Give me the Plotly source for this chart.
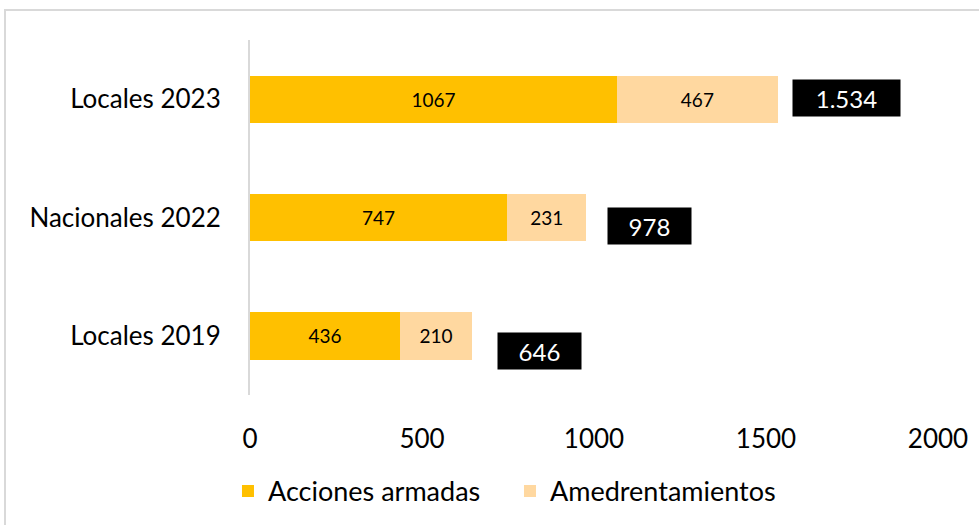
import plotly.graph_objects as go

# ── Datos ─────────────────────────────────────────────────────────────────────
CATEGORIAS      = ["Locales 2019", "Nacionales 2022", "Locales 2023"]
ACCIONES        = [436, 747, 1067]
AMEDRENTAMIENTO = [210, 231, 467]
TOTALES_TXT     = ["646", "978", "1.534"]
X_TICKS         = [0, 500, 1000, 1500, 2000]

# ── Estilo ────────────────────────────────────────────────────────────────────
FONT       = "Lato, 'Open Sans', sans-serif"
COL_ACC    = "#FFC000"
COL_AME    = "#FFD8A0"
GRIS       = "#D9D9D9"
# cajas de total: desplazamiento (px) y ancho, como en el original
BOX_XSHIFT = [67, 63, 69]
BOX_YSHIFT = [-15, -8, 1]
BOX_WIDTH  = [81, 81, 105]

totales = [a + b for a, b in zip(ACCIONES, AMEDRENTAMIENTO)]

fig = go.Figure()
fig.add_trace(go.Bar(
    y=CATEGORIAS, x=ACCIONES, orientation="h", name="Acciones armadas",
    marker=dict(color=COL_ACC, line=dict(width=0)),
    text=ACCIONES, textposition="inside", insidetextanchor="middle",
    textfont=dict(size=19, color="black", family=FONT),
))
fig.add_trace(go.Bar(
    y=CATEGORIAS, x=AMEDRENTAMIENTO, orientation="h", name="Amedrentamientos",
    marker=dict(color=COL_AME, line=dict(width=0)),
    text=AMEDRENTAMIENTO, textposition="inside", insidetextanchor="middle",
    textfont=dict(size=19, color="black", family=FONT),
))

for cat, tot, txt, dx, dy, w in zip(CATEGORIAS, totales, TOTALES_TXT,
                                     BOX_XSHIFT, BOX_YSHIFT, BOX_WIDTH):
    fig.add_annotation(
        x=tot, y=cat, text=txt, showarrow=False,
        xanchor="center", xshift=dx, yshift=dy,
        width=w, height=34, bgcolor="black",
        font=dict(size=24, color="white", family=FONT),
    )

# marco exterior del gráfico (sólo se ven los lados superior e izquierdo)
fig.add_shape(type="rect", xref="paper", yref="paper",
              x0=-0.3561, x1=1.08, y0=-0.41, y1=1.0844,
              line=dict(color=GRIS, width=2), layer="below")

fig.update_layout(
    barmode="stack", bargap=0.6,
    width=979, height=525,
    margin=dict(l=250, r=41, t=40, b=129.5, autoexpand=False),
    paper_bgcolor="white", plot_bgcolor="white",
    font=dict(family=FONT, size=26, color="black"),
    uniformtext=dict(mode="show", minsize=19),
    legend=dict(orientation="h", x=-0.032, xanchor="left", y=-0.2714,
                yanchor="middle", font=dict(size=27), traceorder="normal",
                itemwidth=30, entrywidth=237, entrywidthmode="pixels"),
    showlegend=True,
)
fig.update_xaxes(range=[0, 2000], tickvals=X_TICKS, showgrid=False,
                 zeroline=False, showline=False, ticks="", automargin=False,
                 tickfont=dict(size=26), ticklen=0, ticklabelstandoff=26)
fig.update_yaxes(showgrid=False, zeroline=False, showline=True,
                 linecolor=GRIS, linewidth=2, ticks="", ticklen=0,
                 automargin=False,
                 tickfont=dict(size=26), ticklabelstandoff=22)

# sin el margen por defecto del <body>, la figura ocupa la ventana entera
fig.write_html("out.html", config={"displayModeBar": False},
               post_script="document.body.style.margin='0';")
